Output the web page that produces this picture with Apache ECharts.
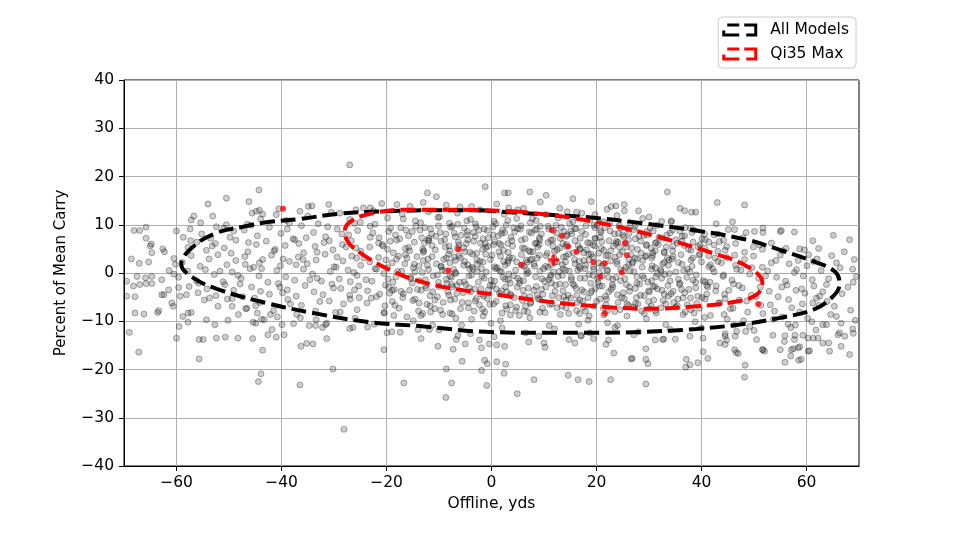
<!DOCTYPE html>
<html>
<head>
<meta charset="utf-8">
<script src="https://cdn.jsdelivr.net/npm/echarts@6/dist/echarts.min.js"></script>
<style>
  html, body { margin: 0; padding: 0; background: #fff; }
  #chart { width: 966px; height: 544px; }
</style>
</head>
<body>
<div id="chart"></div>
<script>
// every shot, [offline yds, percent of mean carry]
const allShots = [
  // top edge / upper band
  [-40.5, 13.3], [-31, 14.2], [-25.8, 13.1], [-13, 14.6], [-6, 13.7], [1, 14.3], [5, 13.1], [13, 13.4], [19, 14.8], [28, 12.9], [15.5, 15.4], [-10.5, 15.8],
  [-44, 11.2], [-41, 12.1], [-38.5, 10.4], [-35, 11.8], [-33, 10.2], [-30.5, 12.6], [-27, 11.1], [-25, 10.5], [-22.5, 12.9], [-19.8, 11.4], [-17, 12.2], [-14.5, 10.8],
  [-12, 12.7], [-10.2, 11.5], [-8, 10.3], [-6.5, 12.4], [-4, 11.1], [-2.2, 13.1], [0.5, 10.7], [2.4, 12.2], [4.8, 11.3], [6.1, 13.4], [8.5, 10.9], [10.3, 12.1],
  [12.7, 11.4], [14.9, 10.2], [16.2, 12.6], [18.8, 11.1], [21.3, 10.6], [23.9, 11.9], [26.4, 10.4], [28.8, 11.3], [31.5, 9.9], [34.2, 10.6], [36.9, 9.4], [-46.5, 10.1],
  [-51, 9.3], [-3.1, 10.2], [7.4, 10.4], [19.5, 9.9],
  // 7 .. 10
  [-55.2, 8.1], [-52.4, 9.6], [-49.8, 7.4], [-47.1, 8.9], [-44.6, 7.7], [-42.3, 9.5], [-40.1, 8.2], [-37.8, 7.1], [-36.2, 9.8], [-33.9, 8.4], [-31.6, 7.5], [-29.4, 9.1],
  [-27.2, 7.9], [-25.5, 8.8], [-23.1, 9.7], [-21.4, 7.3], [-19.6, 8.6], [-17.3, 9.4], [-15.8, 7.7], [-13.6, 8.9], [-11.9, 7.2], [-10.1, 9.8], [-8.7, 8.1], [-6.9, 7.5],
  [-5.2, 9.3], [-3.4, 8.4], [-1.6, 7.1], [0.3, 9.6], [1.9, 8.2], [3.7, 7.4], [5.5, 9.1], [7.2, 8.5], [9.1, 7.3], [10.8, 9.7], [12.4, 8.3], [14.2, 7.6],
  [16.1, 9.2], [17.9, 8], [19.7, 7.2], [21.6, 9.4], [23.4, 8.1], [25.2, 7.5], [27.1, 9], [29, 7.8], [30.8, 8.7], [32.6, 7.2], [34.5, 8.9], [36.3, 7.6],
  [38.2, 8.4], [40.1, 7.1], [42.4, 7.9], [44.2, 6.8], [-53.5, 7.2], [-45.8, 9.9], [-38.9, 9.1], [-28.5, 8.1], [-18.3, 7.9], [-7.8, 9.5], [2.8, 9.9], [13.3, 9.5],
  [24.3, 9.8], [-0.8, 8.8], [8.3, 8.9], [20.8, 8.4], [15.1, 8.7], [-12.7, 9.4], [-22.6, 8.3], [4.4, 8.5], [26.2, 8.3], [-4.6, 7.9],
  // 4 .. 7
  [-57.8, 5.3], [-56.1, 6.4], [-54.3, 4.7], [-52.6, 6.1], [-50.9, 5.2], [-48.7, 6.8], [-46.4, 4.4], [-44.8, 5.9], [-42.9, 6.6], [-41.2, 4.9], [-39.3, 5.7], [-37.5, 6.9],
  [-35.8, 4.2], [-33.6, 5.5], [-31.9, 6.3], [-30.2, 4.8], [-28.4, 5.9], [-26.7, 6.7], [-24.9, 4.5], [-23.2, 5.4], [-21.5, 6.2], [-19.8, 4.9], [-18.1, 6.8], [-16.4, 5.1],
  [-14.7, 6.4], [-13, 4.3], [-11.3, 5.7], [-9.6, 6.6], [-7.9, 4.6], [-6.2, 5.8], [-4.5, 6.9], [-2.8, 4.1], [-1.1, 5.3], [0.6, 6.5], [2.3, 4.7], [4, 5.6],
  [5.7, 6.8], [7.4, 4.4], [9.1, 5.9], [10.8, 6.3], [12.5, 4.8], [14.2, 5.5], [15.9, 6.7], [17.6, 4.2], [19.3, 5.8], [21, 6.5], [22.7, 4.6], [24.4, 5.3],
  [26.1, 6.9], [27.8, 4.9], [29.5, 5.7], [31.2, 6.2], [32.9, 4.4], [34.6, 5.6], [36.3, 6.6], [38, 4.7], [39.7, 5.9], [41.4, 6.4], [43.1, 4.5], [44.8, 5.5],
  [46.5, 6.1], [48.2, 4.3], [49.9, 5.4], [51.6, 4.9], [53.3, 6.2], [55.4, 4.6], [-49.6, 4.1], [-36.7, 6.1], [-25.8, 5.2], [-15.6, 4.6], [-5.3, 5.2], [1.5, 6.1],
  [6.3, 5.1], [11.7, 6.9], [16.8, 4.9], [20.4, 4.1], [25.6, 6.1], [30.7, 4.2], [35.1, 6.9], [40.6, 5.2], [-8.8, 5.4], [3.2, 4.3], [13.6, 6.1], [23.8, 6.6],
  [-20.7, 5.6], [-30.9, 6.7], [8.6, 6.2], [18.7, 6.2], [28.4, 6.6], [-2.1, 6.2], [-12.1, 6.8],
  // 1 .. 4
  [-58.9, 2.2], [-57.2, 3.6], [-55.5, 1.4], [-53.8, 2.9], [-52.1, 3.8], [-50.4, 1.7], [-48.7, 2.6], [-47, 3.4], [-45.3, 1.2], [-43.6, 2.8], [-41.9, 3.7], [-40.2, 1.5],
  [-38.5, 2.4], [-36.8, 3.3], [-35.1, 1.9], [-33.4, 2.7], [-31.7, 3.9], [-30, 1.3], [-28.3, 2.5], [-26.6, 3.5], [-24.9, 1.6], [-23.2, 2.3], [-21.5, 3.2], [-19.8, 1.1],
  [-18.1, 2.9], [-16.4, 3.8], [-14.7, 1.8], [-13, 2.6], [-11.3, 3.4], [-9.6, 1.4], [-7.9, 2.1], [-6.2, 3.6], [-4.5, 1.7], [-2.8, 2.8], [-1.1, 3.9], [0.6, 1.3],
  [2.3, 2.4], [4, 3.1], [5.7, 1.6], [7.4, 2.7], [9.1, 3.7], [10.8, 1.2], [12.5, 2.3], [14.2, 3.5], [15.9, 1.9], [17.6, 2.6], [19.3, 3.3], [21, 1.4],
  [22.7, 2.5], [24.4, 3.8], [26.1, 1.7], [27.8, 2.9], [29.5, 3.6], [31.2, 1.1], [32.9, 2.2], [34.6, 3.4], [36.3, 1.8], [38, 2.7], [39.7, 3.9], [41.4, 1.3],
  [43.1, 2.4], [44.8, 3.2], [46.5, 1.6], [48.2, 2.8], [49.9, 3.5], [51.6, 1.2], [53.3, 2.1], [55, 3.7], [56.7, 1.9], [58.4, 2.6], [60.1, 1.5], [62, 2.9],
  [-3.7, 1.2], [1.7, 3.5], [6.8, 2.2], [11.9, 3.1], [16.7, 1.3], [21.8, 3.6], [-8.6, 3.1], [-13.8, 1.4], [-18.9, 2.1], [-25.7, 3.1], [-35.9, 2.8], [-44.2, 2.1],
  [26.9, 2.3], [33.7, 1.6], [42.6, 3.1], [8.2, 1.4], [18.5, 3.9], [3.1, 2.1], [13.5, 1.7], [-6.9, 2.6], [-1.6, 2.3], [23.9, 1.9], [30.5, 3.1], [-29.4, 3.3],
  [-39.7, 2.9],
  // -2 .. 1
  [-59.6, -0.9], [-57.9, 0.4], [-56.2, -1.6], [-54.5, 0.7], [-52.8, -0.3], [-51.1, -1.8], [-49.4, 0.2], [-47.7, -1.1], [-46, 0.9], [-44.3, -0.6], [-42.6, -1.9], [-40.9, 0.5],
  [-39.2, -0.8], [-37.5, -1.5], [-35.8, 0.8], [-34.1, -0.2], [-32.4, -1.7], [-30.7, 0.3], [-29, -1.2], [-27.3, 0.6], [-25.6, -0.5], [-23.9, -1.4], [-22.2, 0.9], [-20.5, -0.1],
  [-18.8, -1.9], [-17.1, 0.4], [-15.4, -0.9], [-13.7, -1.6], [-12, 0.7], [-10.3, -0.4], [-8.6, -1.3], [-6.9, 0.1], [-5.2, -1.8], [-3.5, 0.8], [-1.8, -0.7], [-0.1, -1.5],
  [1.6, 0.4], [3.3, -0.2], [5, -1.1], [6.7, 0.6], [8.4, -0.8], [10.1, -1.7], [11.8, 0.2], [13.5, -0.5], [15.2, -1.4], [16.9, 0.9], [18.6, -0.3], [20.3, -1.9],
  [22, 0.5], [23.7, -0.9], [25.4, -1.2], [27.1, 0.3], [28.8, -0.6], [30.5, -1.6], [32.2, 0.7], [33.9, -0.1], [35.6, -1.3], [37.3, 0.8], [39, -0.4], [40.7, -1.8],
  [42.4, 0.2], [44.1, -0.7], [45.8, -1.5], [47.5, 0.6], [49.2, -0.2], [50.9, -1.1], [52.6, 0.4], [54.3, -0.9], [56, -1.7], [57.7, 0.1], [59.4, -0.6], [61.1, -1.4],
  [62.8, 0.5], [64.2, -1.2], [-4.3, -0.6], [0.8, 0.9], [6.1, -1.6], [11.2, -0.9], [17.8, -1.1], [-9.4, 0.6], [-14.6, 0.2], [-19.7, -1.2], [-26.2, 0.1], [-33.2, -1.1],
  [-48.3, -0.5], [24.6, 0.7], [31.3, -0.8], [38.4, -1.5], [46.7, 0.8], [2.6, -1.3], [14.1, 0.6], [21.1, -0.6], [-2.7, 0.3], [9.2, 0.4], [-7.6, -0.9],
  // -5 .. -2
  [-57.6, -2.8], [-55.9, -4.1], [-54.2, -3.3], [-52.5, -4.7], [-50.8, -2.4], [-49.1, -3.6], [-47.4, -4.9], [-45.7, -2.9], [-44, -3.8], [-42.3, -4.4], [-40.6, -2.2], [-38.9, -3.5],
  [-37.2, -4.8], [-35.5, -2.6], [-33.8, -3.9], [-32.1, -4.5], [-30.4, -2.3], [-28.7, -3.2], [-27, -4.6], [-25.3, -2.7], [-23.6, -3.7], [-21.9, -4.9], [-20.2, -2.5], [-18.5, -3.4],
  [-16.8, -4.3], [-15.1, -2.1], [-13.4, -3.6], [-11.7, -4.7], [-10, -2.8], [-8.3, -3.9], [-6.6, -4.2], [-4.9, -2.4], [-3.2, -3.3], [-1.5, -4.8], [0.2, -2.6], [1.9, -3.7],
  [3.6, -4.4], [5.3, -2.2], [7, -3.1], [8.7, -4.6], [10.4, -2.9], [12.1, -3.8], [13.8, -4.9], [15.5, -2.3], [17.2, -3.5], [18.9, -4.1], [20.6, -2.7], [22.3, -3.9],
  [24, -4.5], [25.7, -2.4], [27.4, -3.2], [29.1, -4.7], [30.8, -2.8], [32.5, -3.6], [34.2, -4.3], [35.9, -2.1], [37.6, -3.4], [39.3, -4.8], [41, -2.6], [42.7, -3.7],
  [44.4, -4.4], [46.1, -2.3], [47.8, -3.1], [49.5, -4.6], [51.2, -2.9], [52.9, -3.8], [54.6, -4.9], [56.3, -2.5], [58, -3.6], [59.7, -4.2], [61.4, -2.7], [63.1, -3.9],
  [-4, -3.9], [2.7, -2.9], [9.5, -3.4], [16.3, -4.6], [23.1, -2.9], [29.9, -3.7], [36.8, -4.1], [-12.6, -2.6], [-19.4, -4.2], [-26.1, -3.5], [-39.8, -4.1], [6.2, -4.8],
  [13, -2.3], [19.8, -3.2], [-7.4, -2.9], [-0.6, -3.5], [45.2, -3.6], [33.6, -2.6],
  // -8 .. -5
  [-54.7, -5.6], [-52.1, -6.9], [-49.4, -5.3], [-46.8, -7.4], [-44.1, -6.1], [-41.5, -7.8], [-38.8, -5.5], [-36.2, -6.7], [-33.5, -7.9], [-30.9, -5.8], [-28.2, -6.4], [-25.6, -7.6],
  [-22.9, -5.2], [-20.3, -6.8], [-17.6, -7.3], [-15, -5.7], [-12.3, -6.5], [-9.7, -7.7], [-7, -5.4], [-4.4, -6.2], [-1.7, -7.5], [0.9, -5.9], [3.6, -6.6], [6.2, -7.9],
  [8.9, -5.3], [11.5, -6.4], [14.2, -7.2], [16.8, -5.6], [19.5, -6.9], [22.1, -7.8], [24.8, -5.1], [27.4, -6.3], [30.1, -7.4], [32.7, -5.7], [35.4, -6.8], [38, -7.6],
  [40.7, -5.4], [43.3, -6.2], [46, -7.3], [48.6, -5.8], [51.3, -6.7], [53.9, -7.9], [56.6, -5.5], [59.2, -6.4], [61.9, -5.2], [-2.9, -5.3], [4.8, -7.1], [12.8, -5.1],
  [20.7, -5.4], [28.6, -7.9], [36.5, -5.2], [-10.8, -5.6], [-18.9, -5.9], [-26.9, -5.4], [-0.3, -6.5], [7.5, -6.1], [17.9, -7.9], [26.1, -6.7], [44.5, -5.3],
  // -11 .. -8
  [-44.6, -8.3], [-40.8, -9.1], [-37.1, -8.6], [-33.4, -9.7], [-29.7, -8.2], [-26, -9.4], [-22.3, -10.6], [-18.6, -8.8], [-14.9, -9.9], [-11.2, -10.8], [-7.5, -8.5], [-3.8, -9.6],
  [-0.1, -10.4], [3.6, -8.7], [7.3, -9.3], [11, -10.9], [14.7, -8.4], [18.4, -9.8], [22.1, -10.3], [25.8, -8.9], [29.5, -9.5], [33.2, -10.7], [36.9, -8.1], [40.6, -9.2],
  [44.3, -8.6], [48, -9.9], [51.7, -8.4], [55.4, -9.1], [-20.5, -8.2], [-5.7, -10.8], [9.2, -8.1], [24, -10.9], [38.8, -10.1], [1.7, -9.9], [16.6, -10.6], [31.4, -8.3],
  [-13.1, -8.4], [-31.6, -10.7], [46.2, -10.8],
  // lower edge
  [-27, -11.5], [-19, -12.2], [-10, -11.8], [-4, -12.6], [2, -11.4], [6.5, -12.4], [12, -11.6], [17, -12.9], [23.5, -11.3], [28, -12.2], [34, -11.7], [40, -11.4],
  [44.5, -12.6], [50, -11.9], [57, -11.3], [61, -10.1], [0.5, -13.2], [9, -13.1],
  // dense core
  [-24.3, 3.1], [-23.7, -6.2], [-23.1, 7.4], [-22.8, -1.7], [-22.2, 10.1], [-21.9, 0.8], [-21.3, -4.4], [-20.8, 5.9], [-20.4, -8.3], [-20.1, 2.7],
  [-19.6, -2.9], [-19.2, 9.3], [-18.7, 4.2], [-18.4, -6.7], [-17.9, 0.3], [-17.5, 7.1], [-17.2, -3.8], [-16.8, 11.2], [-16.5, 1.9], [-16.1, -9.1],
  [-15.8, 5.3], [-15.4, -1.2], [-15.1, 8.6], [-14.6, -5.4], [-14.2, 3.4], [-13.9, -7.9], [-13.5, 10.4], [-13.2, 0.1], [-12.8, 6.2], [-12.4, -3.1], [-12.1, 2.9],
  [-11.7, -6.8], [-11.4, 8.1], [-11.1, -0.6], [-10.7, 4.8], [-10.3, -4.9], [-9.9, 11.6], [-9.6, 1.3], [-9.3, -8.6], [-8.9, 6.9], [-8.5, -2.2], [-8.2, 3.9],
  [-7.8, -5.6], [-7.5, 9.7], [-7.2, 0.7], [-6.8, -9.4], [-6.5, 5.1], [-6.1, -1.9], [-5.8, 7.8], [-5.4, -4.1], [-5.1, 2.4], [-4.7, 10.8], [-4.4, -7.2], [-4.1, 4.3],
  [-3.8, -0.4], [-3.4, 6.6], [-3.1, -5.8], [-2.7, 1.8], [-2.4, 8.9], [-2, -3.3], [-1.7, 4.9], [-1.3, -8.1], [-1, 0.2], [-0.6, 7.3], [-0.3, -2.6], [0.1, 3.7],
  [0.4, -6.4], [0.8, 10.2], [1.1, 1.1], [1.5, -4.2], [1.8, 5.8], [2.2, -0.9], [2.5, 8.4], [2.9, -7.5], [3.2, 2.6], [3.6, -2.1], [3.9, 6.7], [4.3, -5.1],
  [4.6, 0.6], [5, 9.2], [5.3, -8.8], [5.7, 3.8], [6, -3.6], [6.4, 7.1], [6.7, -0.2], [7.1, 4.6], [7.4, -6.3], [7.8, 11.3], [8.1, 1.9], [8.5, -2.8], [8.8, 5.4],
  [9.2, -5.5], [9.5, 8.1], [9.9, 0.9], [10.2, -8.2], [10.6, 4.1], [10.9, -1.4], [11.3, 6.8], [11.6, -4.7], [12, 2.2], [12.3, 9.9], [12.7, -0.7], [13, 5.2],
  [13.4, -6.9], [13.7, 3.3], [14.1, -2.4], [14.4, 7.9], [14.8, 0.4], [15.1, -5.2], [15.5, 10.6], [15.8, 2.8], [16.2, -7.8], [16.5, 5.7], [16.9, -1.1], [17.2, 8.6],
  [17.6, -3.9], [17.9, 1.6], [18.3, 6.3], [18.6, -8.9], [19, 3.9], [19.3, -0.5], [19.7, 9.4], [20, -5.9], [20.4, 2.1], [20.7, 7.4], [21.1, -2.7], [21.4, 4.7],
  [21.8, -6.6], [22.1, 0.6], [22.5, 10.3], [22.8, -3.4], [23.2, 5.6], [23.5, -8], [23.9, 2.4], [24.2, 8.2], [24.6, -1.6], [24.9, 4.4], [25.3, -5.3],
  [25.6, 1.2], [26, 9.1], [26.3, -2.9], [26.7, 5.2], [27, -7.1], [27.4, 3.1], [27.7, -0.8], [28.1, 7.6], [28.4, -4.6], [28.8, 2.6], [29.1, -8.4],
  [29.5, 5.9], [29.8, -1.9], [30.2, 9.3], [30.5, 0.8], [30.9, -5.6], [31.2, 4.6], [31.6, -3.3], [31.9, 7.4], [32.3, -7.2], [32.6, 1.9], [33, -0.3],
  [33.3, 5.4], [33.7, -4.8], [34, 8.3], [34.4, 2.9], [34.7, -6.1], [35.1, 0.2], [35.4, 6.2], [35.8, -2.4], [36.1, 3.8], [36.5, -8.6], [36.8, 7.7],
  [37.2, -0.9], [37.5, 4.9], [37.9, -5.2], [38.2, 1.4], [38.6, 8.9], [38.9, -3.1], [39.3, 5.5], [39.6, -7.3], [40, 2.3], [40.3, -1.6], [40.7, 6.9],
  [41, -4.4], [41.4, 3.6], [41.7, -8.8], [42.1, 0.9], [42.4, 5.8], [42.8, -2.7], [43.1, 8.1], [43.5, -6.2], [43.8, 2.1], [44.2, -0.4], [44.5, 4.7], [44.9, -9.6],
  [-14.1, -3.4], [-12.9, 4.6], [-11.6, 9.1], [-10.8, -7.4], [-9.1, 2.8], [-7.9, -0.7], [-6.3, 6.4], [-5.6, -6.1], [-4.2, 0.9], [-2.9, 9.6], [-1.9, -4.4], [-0.7, 5.5],
  [0.6, -1.7], [1.3, 7.7], [2.7, -6.8], [3.4, 3.2], [4.9, -2.9], [5.6, 9.8], [6.2, 1.4], [7.3, -4.9], [8.3, 6.1], [9.6, -1.2], [10.4, 3.6], [11.1, -6.5],
  [11.8, 8.8], [12.9, 0.3], [13.6, -3.7], [14.3, 5.9], [15.2, -0.9], [15.9, 9.2], [16.7, 2.4], [17.4, -5.8], [18.1, 4.8], [18.9, -2.1], [19.8, 7.1], [20.5, 0.1],
  [21.3, -7.3], [22.2, 3.7], [23.1, -1.3], [24.1, 6.4], [25.1, -4.1], [26.2, 2.9], [27.3, 9.6], [28.2, -2.3], [29.3, 3.4], [30.4, -6.9], [31.4, 6.3], [32.4, -1.1],
  [33.5, 3.1], [34.6, -3.8], [-13.3, 7.3], [-8.1, -4.6], [-3.3, -7.9], [1.9, 0.2], [6.9, -8.1], [11.4, 1.7], [16.1, -3.2], [20.9, 5.1], [25.8, -6.4], [30.6, 1.5],
  [-10.1, -1.9], [-5.9, 3.1], [-1.4, -1.1], [3.1, 10.9], [7.7, 2.9], [12.2, -2.5], [16.9, 7.2], [21.7, -4.8], [26.4, 0.4], [31.1, -2.8], [-12.2, 1.6], [-7.1, 8.3],
  [-2.2, 2.4], [2.9, -3.9], [7.9, 4.4], [13.1, -8.6], [17.8, 0.9], [22.6, 8.7], [27.6, -5.1], [32.9, 4.2], [-6.6, -2.6], [-1.2, 6.1], [4.2, -0.6], [9.3, 9.7],
  [14.6, -4.6], [19.4, 1.3], [24.5, -7.6], [29.6, 7.9], [35.5, -5.4], [38.3, 3.1], [41.6, -1.9], [43.4, 6.5], [39.1, -6.3], [36.6, 0.5], [37.9, 9.3],
  [-19.3, 6.6], [-18.2, -0.8], [-17.7, 3.5], [-16.9, -5.1], [-16.3, 8.9], [-15.6, -3.6], [-14.9, 1.1], [-14.4, 9.7], [-13.8, -6.2], [-13.1, 4.9], [-12.6, -1.4], [-11.9, 6.7],
  [-11.2, -3.9], [-10.5, 1.9], [-9.8, 8.4], [-9.2, -6.1], [-8.7, 0.4], [-8.1, 5.6], [-7.6, -2.4], [-7.1, 3.3], [-6.4, 10.1], [-5.9, -7.4], [-5.3, 1.6], [-4.8, 6.1],
  [-4.2, -3.1], [-3.6, 3.9], [-3.1, 7.6], [-2.5, -1.9], [-1.9, 0.9], [-1.4, 9.1], [-0.8, -5.3], [-0.2, 2.8], [0.3, 7.9], [0.9, -3.3], [1.4, 4.4], [2, -8.3],
  [2.6, 1.6], [3.1, 6.1], [3.7, -4.7], [4.2, 9.4], [4.8, 2.3], [5.4, -1.6], [5.9, 5.2], [6.5, -6.9], [7, 0.1], [7.6, 8.3], [8.1, -3.6], [8.7, 3.1],
  [9.2, 6.9], [9.8, -4.4], [10.3, 1.4], [10.9, 9.1], [11.4, -2.1], [12, 4.5], [12.5, -7.2], [13.1, 7.2], [13.6, 0.9], [14.2, -5.6], [14.7, 3.9], [15.3, 8.1],
  [15.8, -2.6], [16.4, 0.6], [16.9, 5.1], [17.5, -7.1], [18, 9.8], [18.6, 2.7], [19.1, -3.7], [19.7, 5.6], [20.2, -1.2], [20.8, 8.8], [21.3, 1.8], [21.9, -5.4],
  [22.4, 6.7], [23, -2.4], [23.5, 3.3], [24.1, -6.1], [24.6, 9.3], [25.2, 0.5], [25.7, 5.4], [26.3, -3.8], [26.8, 1.9], [27.4, 7.1], [27.9, -6.4], [28.5, 4.1],
  [29, -1.1], [29.6, 8.6], [30.1, -3.9], [30.7, 3.6], [31.2, -7.8], [31.8, 5.9], [32.3, 0.3], [32.9, -4.4], [33.4, 7.9], [34, -1.6], [34.5, 4.6], [35.1, -7.1],
  [35.6, 2.2], [36.2, -3.4], [36.7, 5.7], [37.3, -6.6], [37.8, 0.2], [38.4, 6.4], [38.9, -1.9], [39.5, 3.7], [40.1, -5.1], [40.6, 8.1], [41.2, -2.9], [41.7, 1.7],
  [-18.9, -3.6], [-16.1, 3.1], [-13.4, -8.8], [-10.6, 7.6], [-7.9, -8.3], [-5.1, 4.4], [-2.3, -6.6], [0.4, 5.9], [3.2, -1.4], [5.9, -5.7], [8.6, 9.1], [11.3, -0.4],
  [14.1, 2.3], [16.8, -8.4], [19.5, 0.8], [22.3, -0.9], [25, 7.9], [27.7, -2.1], [30.4, 5.1], [33.2, -6.4], [35.9, 8.7], [38.6, -8.3], [-6.8, -0.1], [-1.6, -8.9],
  [2.1, 8.9], [6.6, 2.7], [11.7, 5.6], [16.3, -6.1], [21.4, -8.7], [26.6, 3.8], [31.6, -0.1], [9.7, -7.3], [13.8, 8.6], [18.4, -5.1], [23.7, 6.1], [28.7, 1.2],
  [33.8, 2.7], [-11.6, -8.1], [-4.6, 8.6], [4.6, -7.8], [15.6, 4.2], [20.1, 9.9], [29.9, -5.9],
  // mid left / mid right
  [-49.1, 8.7], [-47.9, -2.3], [-46.3, 6.3], [-45.1, -5.2], [-43.8, 0.9], [-42.1, -8.6], [-41.4, 4.6], [-40.3, -2.9], [-39.1, 10.9], [-38.3, -6.4], [-37.2, 1.7], [-36.4, -9.3],
  [-35.3, 7.3], [-34.6, -1.4], [-33.2, 4.3], [-32.7, -5.9], [-31.2, 9.6], [-30.1, -3.1], [-29.6, 1.2], [-28.8, -8.1], [-27.7, 5.4], [-26.9, -1.8], [-26.1, 10.3], [-25.2, -5.1],
  [-48.2, -8.6], [-51.7, 0.4], [-53.2, 5.6], [-55.8, -2.1], [-50.3, -5.4], [-46.9, 1.8],
  [45.5, -7.4], [46.3, 3.7], [47.1, -2.6], [47.9, 7.3], [48.8, -8.1], [49.6, 1.1], [50.4, -4.9], [51.1, 5.8], [52.2, -0.6], [53.1, -6.6], [54.2, 2.6], [55.3, -2.9],
  [56.1, 5.1], [57.2, -7.2], [58.1, 0.7], [59.1, -3.3], [60.4, 3.8], [62.4, -6.7], [45.9, 10.6], [50.1, 8.6], [53.7, -9.6], [57.9, -10.8], [49.2, -11.1], [47.2, -5.6],
  // left side
  [-44.3, 17.2], [-50.5, 15.5], [-54, 14.3], [-46.2, 14.8], [-45.6, 12.4], [-44.8, 12.8], [-44.2, 13], [-43.6, 12.2], [-53.1, 11.8], [-56.7, 11.8], [-57.2, 11], [-55.4, 10.4],
  [-50.5, 10], [-68.1, 8.8], [-67, 8.8], [-65.8, 9.5], [-60, 8.7], [-57.4, 9.1], [-58.7, 7.4], [-57.3, 6.7], [-65.8, 7.2], [-65, 5.6], [-64.8, 6], [-62.6, 5],
  [-62.3, 4.4], [-68.6, 2.9], [-67.1, 2], [-65.3, 2.3], [-64.7, 4.2], [-60.5, 3], [-60.2, 1.8], [-61.4, 0.5], [-60.5, -0.2], [-67.5, -0.7], [-65.9, -1], [-64.7, -0.7],
  [-62.8, -1.4], [-69.5, -1.7], [-68.2, -2.7], [-67, -2.4], [-65.8, -2.2], [-64.7, -2.2], [-62.8, -4.5], [-61.5, -3.5], [-59.6, -3], [-69.5, -4.8], [-67.9, -4.9],
  [-69, -12.3], [-67.2, -16.4], [-67.9, -8.3], [-66.2, -8.5], [-63.6, -8.2], [-63.4, -7.8], [-62.4, -4.5], [-60.9, -6.2], [-60.6, -6.9], [-59.3, -4.8], [-58.1, -4.5], [-59.5, -11.1],
  [-60, -13.5], [-58.8, -9], [-57.8, -8.3], [-57.2, -8.2], [-57.8, -10.2], [-55.7, -13.8], [-54.9, -13.8], [-55.7, -17.8], [-54.3, -9.7], [-53.7, -5.2], [-52.7, -10.7], [-52.4, -13.5],
  [-50.7, -13.3], [-48.3, -13.5], [-45.5, -13.6], [-50.2, -9.8], [-49.4, -6.9], [-46.6, -7.3], [-44.9, -6.8], [-45.4, -10.2], [-44.9, -10.4], [-43.8, -9.6], [-43.3, -9.7], [-43.6, -16],
  [-43.9, -20.9], [-44.4, -22.5], [-41.8, -11.7], [-42.6, -12.8], [-41, -13.3], [-39.9, -10.7], [-39.5, -12.8], [-37.7, -10.5], [-36.5, -23.2], [-36.3, -15.2], [-35.2, -14.6], [-34.7, -10.9],
  // bottom middle
  [-28.1, -32.4], [-30.2, -19.9], [-34, -14.7], [-31.4, -13.6], [-33.5, -10.9], [-32.2, -11.3], [-31.4, -10.4], [-26.4, -11.3], [-23.6, -11.2], [-20.5, -15.9], [-19.9, -12.4], [-17.4, -12.3],
  [-13.4, -13.6], [-14, -11.7], [-11.8, -11.7], [-16.7, -22.8], [-10.2, -15.2], [-8.6, -19.9], [-8.7, -25.8], [-7.6, -22.8], [-7.3, -15.8], [-5.6, -18.3], [-6.7, -13.8], [-6.4, -13],
  [-5, -14.7], [-2.3, -13.9], [-1.9, -15.5], [-0.4, -14.7], [-1.9, -20.2], [-1.3, -18.1], [-0.8, -18.8], [-0.9, -23.3], [1, -18.4], [2.7, -18.9], [2.4, -20.8], [1, -14.9],
  [2.5, -15.2], [4.9, -25], [7.1, -14.3], [8.1, -22.1], [10, -14.5], [10.2, -15.4], [14.6, -21.2], [16.5, -22.1], [18.6, -22.5], [22.7, -22.1], [23.3, -16.6], [26.6, -17.8],
  [29.4, -17.9], [29.8, -18.8], [29.4, -15.7], [29.4, -23], [21.8, -14.8], [22.3, -13.9], [27.1, -12.8], [31.2, -13.9], [32.8, -13.7], [35, -13.7], [14.8, -13.8], [15.9, -14.5],
  [17.1, -13.1], [19.4, -13.6], [18.7, -12.4],
  // right side
  [26.8, -17.7], [37.1, -17.9], [37.8, -19], [39.3, -18.6], [40.3, -16.3], [41.2, -17.7], [37, -19.5], [43.5, -14.5], [44.8, -13.9], [46.3, -15.9], [46.6, -16.5], [47, -16.7],
  [48.3, -19.1], [48.2, -21.6], [51.6, -15.9], [52, -16.2], [55.9, -18.5], [57.1, -15.9], [58.4, -15.5], [60.3, -16.2], [58.5, -18.1], [59, -17.9], [64.2, -14.5], [64.4, -16.2],
  [66.6, -15.2], [68.2, -16.9], [56.5, -10.6], [57.8, -12.9], [55.9, -13], [65.7, -9], [63.8, -10.7], [66, -12.8], [65.3, -6.9], [62.5, -4.8], [61.2, -6.2], [63.8, -2.4],
  [55, -15.9], [57.5, -15.7], [58.7, -15.3], [63.1, -14.5], [62.2, -13.5], [60.3, -13.5], [61.3, -13.5], [50.5, -13.8], [51.7, -15.9], [53.6, -12.9], [55.8, -14.2], [57.7, -13.8],
  [59.3, -12.9], [44.5, -13.1], [44.5, -14.8], [46.4, -13.1], [46.7, -12.1], [48.4, -12.1], [32.6, -13.8], [37.8, -13.1], [40.3, -13.5], [63.1, -10.7], [66.3, -12.4], [68.9, -12.5],
  [67.3, -13.1], [68.8, -11.6], [66.6, -10.4], [57, -17.2], [60.6, -16.1],
  [62.3, 5.1], [64.8, 3.6], [67.2, 4.4], [69.1, 2.8], [63.9, -5.9], [66.8, -4.3], [68.4, -7.7], [69.3, -9.8], [67.9, -2.9], [64.6, -8.6], [60.2, -9.4], [58.7, -8.1],
  [61.8, -11.8], [68.2, 6.9], [65.1, 7.8],
  [33.5, 16.8], [43, 14.6], [48.2, 14.1], [35.9, 13.4], [36.8, 12.9], [38.1, 12.6], [38.9, 12.6], [30, 11.6], [32.4, 10.7], [34.3, 10.8], [42.8, 10.2], [45.1, 9],
  [46.3, 9], [48.5, 8.4], [51.7, 9.3], [51.7, 8.4], [55.2, 8.8], [57.7, 8.5], [61.2, 6.7], [59.6, 4.8], [58.7, 5], [65.7, 2.1], [66.4, 1.1], [68.8, 0.8],
  [69.5, -0.7], [68.9, -1.9], [55, 8.6], [61.3, 2.4],
  // top middle
  [-27, 22.4], [-12.2, 16.6], [-1.2, 17.9], [2.5, 16.6], [3.2, 16.6], [7.3, 16.8], [9.3, 14.7], [10.4, 16.1], [22.8, 13.8], [23.7, 13.9], [25.3, 12.9], [25.3, 14.2],
  [22, 13.2], [-34.9, 13.8], [-34.2, 13.9], [-20.9, 14.4], [-24.4, 13.5], [-23.1, 13.5], [-18, 14.2], [-15.5, 13.8], [-8.6, 14.1], [-3.8, 13.8], [3.3, 13.5], [14.4, 12.7],
  [17.2, 12.4], [19.7, 12.1], [-28.9, 12.4], [-36.5, 12.8]
];

// Qi35 Max shots
const qi35Shots = [
  [-39.7, 13.3], [-6.3, 4.9], [-8.2, 0.5], [5.7, 1.7], [11.5, 8.9], [13.4, 7.7], [14.6, 5.5], [16.2, 4.4],
  [19.4, 2.3], [21.6, 2.0], [20.7, -0.8], [24.8, 0.1], [25.8, 3.7], [25.4, 6.2], [21.6, -8.4], [50.8, -6.4]
];
const qi35Center = [[11.8, 2.7]];

// dispersion ellipse outlines, read around the picture
const allModelsEllipse = [
  [-2, 13], [10.5, 12.1], [20, 11.4], [29.5, 10.2], [39, 8.8], [48.6, 6.9], [54.9, 4.8], [61.3, 2.4], [65.4, 0.3], [66.3, -2.2],
  [65.1, -4.8], [61.3, -7.6], [54.9, -9.3], [48.6, -10.5], [39, -11.6], [29, -12.2], [20, -12.4], [10.5, -12.4], [-1, -12.2], [-13.7, -11],
  [-23.2, -10.2], [-34, -8.3], [-42.2, -6.4], [-51.8, -3.5], [-56.8, -1], [-59.1, 1.8], [-56.8, 5.5], [-52.4, 8.3], [-47.3, 9.6], [-42.2, 10.6],
  [-36.5, 11.2], [-28.9, 12.3], [-20, 12.8], [-10, 13], [-2, 13]
];
const qi35Ellipse = [
  [4.1, 12.8], [13.6, 11.7], [23.2, 9.8], [32.7, 7.2], [42.2, 4.1], [48.6, 1.4], [51.6, -2], [50.5, -4.5], [46.7, -5.9], [39, -6.9],
  [29.5, -7.4], [20, -6.9], [10.5, -5.9], [1, -4.5], [-4.1, -3.8], [-12.4, -2.1], [-18.7, 0.3], [-24.5, 3.8], [-27.6, 6.9], [-27.9, 9],
  [-26.4, 11], [-22.6, 12.4], [-16.8, 13.1], [-7.3, 13.1], [4.1, 12.8]
];

const xTicks = [-60, -40, -20, 0, 20, 40, 60];

const font = 'DejaVu Sans';
const minus = v => String(v).replace('-', '\u2212');
const legendIcon = 'path://M5,0L17,0L17,3L5,3Z M0,7L3,7L3,10L17,10L17,13L0,13Z M22,0L35,0L35,13L24,13L24,10L32,10L32,3L22,3Z';

const chart = echarts.init(document.getElementById('chart'));
chart.setOption({
  animation: false,
  backgroundColor: '#fff',
  textStyle: { fontFamily: font },
  grid: {
    left: 124, right: 107, top: 80, bottom: 78,
    show: true, borderColor: '#000', borderWidth: 1, backgroundColor: 'transparent'
  },
  legend: {
    orient: 'vertical',
    right: 110,
    top: 17,
    padding: [5, 7, 6, 4],
    itemGap: 8,
    itemWidth: 35,
    itemHeight: 13,
    borderColor: '#cccccc',
    borderWidth: 1,
    borderRadius: 4,
    selectedMode: false,
    textStyle: { fontFamily: font, fontSize: 15.5, color: '#000', padding: [0, 0, 0, 8] },
    data: [
      { name: 'All Models', icon: legendIcon },
      { name: 'Qi35 Max', icon: legendIcon }
    ]
  },
  xAxis: {
    type: 'value',
    min: -70,
    max: 70,
    interval: 10,
    name: 'Offline, yds',
    nameLocation: 'middle',
    nameGap: 30,
    nameTextStyle: { fontFamily: font, fontSize: 15.5, color: '#000' },
    axisLine: { show: true, onZero: false, lineStyle: { color: '#000', width: 1 } },
    axisTick: { show: true, length: 5, customValues: xTicks, lineStyle: { color: '#000' } },
    axisLabel: {
      customValues: xTicks,
      margin: 9,
      fontFamily: font, fontSize: 15.5, color: '#000',
      formatter: v => (v % 20 === 0 && Math.abs(v) < 70 ? minus(v) : '')
    },
    splitLine: { show: false }
  },
  yAxis: {
    type: 'value',
    min: -40,
    max: 40,
    interval: 10,
    name: 'Percent of Mean Carry',
    nameLocation: 'middle',
    nameGap: 55,
    nameTextStyle: { fontFamily: font, fontSize: 15, color: '#000' },
    axisLine: { show: true, onZero: false, lineStyle: { color: '#000', width: 1 } },
    axisTick: { show: true, length: 5, lineStyle: { color: '#000' } },
    axisLabel: { margin: 10, fontFamily: font, fontSize: 15.5, color: '#000', formatter: v => minus(v) },
    splitLine: { show: true, lineStyle: { color: '#b0b0b0', width: 1 } }
  },
  series: [
    {
      name: 'shots',
      type: 'scatter',
      data: allShots,
      symbol: 'circle',
      symbolSize: 6,
      z: 2,
      itemStyle: { color: 'rgba(0,0,0,0.24)', borderColor: 'rgba(0,0,0,0.38)', borderWidth: 1 },
      silent: true,
      markLine: {
        silent: true,
        z: 1,
        symbol: ['none', 'none'],
        label: { show: false },
        lineStyle: { color: '#b0b0b0', width: 1, type: 'solid' },
        data: xTicks.map(v => ({ xAxis: v }))
      }
    },
    {
      name: 'All Models',
      type: 'line',
      data: allModelsEllipse,
      smooth: 0.4,
      symbol: 'none',
      z: 3,
      itemStyle: { color: '#000' },
      lineStyle: { color: '#000', width: 4, type: [15, 6] }
    },
    {
      name: 'Qi35 Max',
      type: 'line',
      data: qi35Ellipse,
      smooth: 0.4,
      symbol: 'none',
      z: 4,
      itemStyle: { color: '#ff0000' },
      lineStyle: { color: '#ff0000', width: 4, type: [15, 6] }
    },
    {
      name: 'qi35 shots',
      type: 'scatter',
      data: qi35Shots,
      symbol: 'circle',
      symbolSize: 6,
      z: 5,
      itemStyle: { color: '#ff0000' },
      silent: true
    },
    {
      name: 'qi35 center',
      type: 'scatter',
      data: qi35Center,
      symbol: 'path://M3.5,0H6.5V3.5H10V6.5H6.5V10H3.5V6.5H0V3.5H3.5Z',
      symbolSize: 11,
      z: 6,
      itemStyle: { color: '#ff0000' },
      silent: true
    }
  ]
});
</script>
</body>
</html>
